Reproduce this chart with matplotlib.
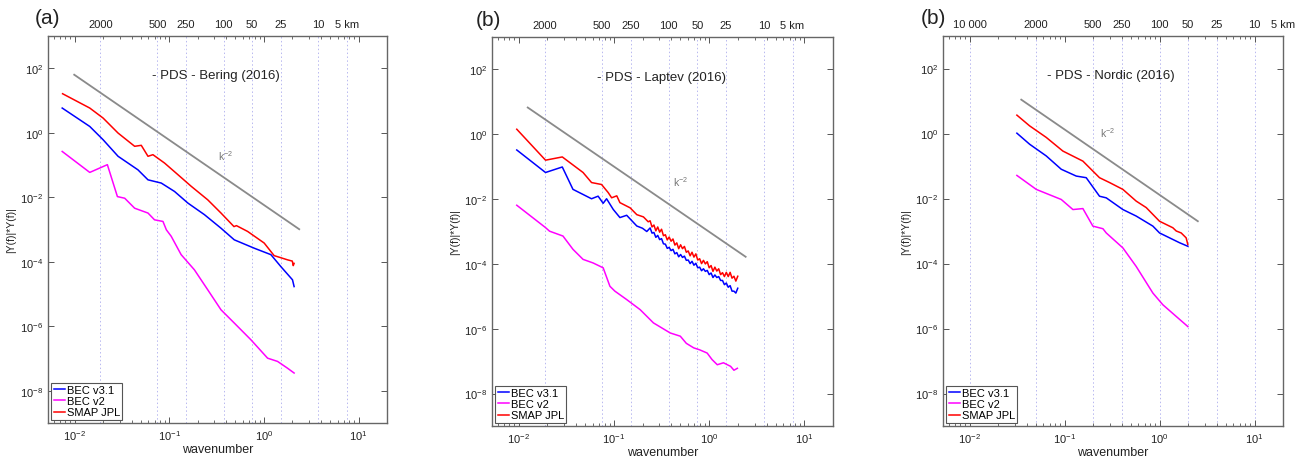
import numpy as np
import matplotlib
matplotlib.use("Agg")
import matplotlib.pyplot as plt
from matplotlib.ticker import NullLocator, LogLocator

plt.rcParams['font.family'] = ['Liberation Sans', 'DejaVu Sans']
plt.rcParams['mathtext.fontset'] = 'custom'
plt.rcParams['mathtext.rm'] = 'Liberation Sans'
plt.rcParams['mathtext.it'] = 'Liberation Sans'

# ---------------- data (log10 of wavenumber, log10 of PDS) ----------------
# Panel (a) Bering
bering_blue_lk = [-2.13, -1.839, -1.698, -1.54, -1.33, -1.224, -1.084, -0.944, -0.803, -0.628,
                  -0.453, -0.313, -0.102, 0.074, 0.179, 0.302, 0.319]
bering_blue_lv = [0.766, 0.195, -0.217, -0.73, -1.15, -1.46, -1.56, -1.82, -2.18, -2.54,
                  -2.96, -3.32, -3.58, -3.78, -4.15, -4.56, -4.77]
bering_mag_lk = [-2.13, -1.839, -1.653, -1.547, -1.47, -1.365, -1.224, -1.155, -1.066, -1.03,
                 -0.979, -0.874, -0.734, -0.593, -0.453, -0.313, -0.137, 0.039, 0.144, 0.249, 0.319]
bering_mag_lv = [-0.58, -1.23, -0.99, -1.98, -2.03, -2.34, -2.49, -2.70, -2.75, -3.01,
                 -3.21, -3.78, -4.25, -4.87, -5.49, -5.90, -6.42, -6.99, -7.09, -7.30, -7.45]
bering_red_lk = [-2.126, -1.839, -1.698, -1.540, -1.365, -1.295, -1.224, -1.172, -1.049, -0.908,
                 -0.768, -0.593, -0.453, -0.316, -0.29, -0.172, 0.003, 0.108, 0.249, 0.30, 0.31, 0.319]
bering_red_lv = [1.21, 0.766, 0.455, -0.01, -0.42, -0.39, -0.73, -0.68, -0.94, -1.30,
                 -1.66, -2.08, -2.49, -2.91, -2.88, -3.06, -3.42, -3.81, -3.94, -3.98, -4.12, -4.05]
bering_ref_k = [0.00993, 2.36]
bering_ref_v = [63.0, 1.02e-3]

# Panel (b) Laptev
laptev_tail_lk = [-0.62, -0.60, -0.58, -0.56, -0.54, -0.52, -0.50, -0.48, -0.46, -0.44, -0.42,
                  -0.40, -0.38, -0.36, -0.34, -0.32, -0.30, -0.28, -0.26, -0.24, -0.22, -0.20,
                  -0.18, -0.16, -0.14, -0.12, -0.10, -0.08, -0.06, -0.04, -0.02, 0.00, 0.02,
                  0.04, 0.06, 0.08, 0.10, 0.12, 0.14, 0.16, 0.18, 0.20, 0.22, 0.24, 0.26, 0.28, 0.30]
laptev_blue_lk = [-2.02, -1.718, -1.542, -1.43, -1.235, -1.166, -1.113, -1.077, -1.007, -0.937,
                  -0.866, -0.76, -0.70, -0.655] + laptev_tail_lk
laptev_blue_lv = [-0.485, -1.18, -1.01, -1.70, -1.99, -1.91, -2.13, -1.99, -2.32, -2.57,
                  -2.50, -2.83, -2.90, -3.0,
                  -2.89, -3.05, -3.03, -3.18, -3.12, -3.25, -3.22, -3.38, -3.39, -3.52, -3.49,
                  -3.59, -3.55, -3.69, -3.65, -3.78, -3.71, -3.80, -3.76, -3.89, -3.88, -3.99,
                  -3.92, -4.04, -3.98, -4.12, -4.10, -4.21, -4.15, -4.23, -4.20, -4.33, -4.28,
                  -4.42, -4.34, -4.42, -4.39, -4.51, -4.51, -4.64, -4.59, -4.72, -4.67, -4.84,
                  -4.84, -4.90, -4.75]
laptev_mag_lk = [-2.02, -1.718, -1.676, -1.535, -1.43, -1.324, -1.219, -1.113, -1.042, -0.99,
                 -0.866, -0.725, -0.585, -0.409, -0.303, -0.24, -0.162, -0.10, -0.021, 0.03,
                 0.085, 0.15, 0.225, 0.26, 0.296]
laptev_mag_lv = [-2.19, -2.88, -2.99, -3.14, -3.55, -3.86, -3.97, -4.12, -4.69, -4.84,
                 -5.10, -5.41, -5.82, -6.13, -6.23, -6.45, -6.59, -6.65, -6.75, -6.95,
                 -7.11, -7.05, -7.16, -7.28, -7.22]
laptev_red_lk = [-2.02, -1.718, -1.542, -1.324, -1.235, -1.13, -1.06, -1.024, -0.97, -0.937,
                 -0.83, -0.76, -0.69, -0.64] + laptev_tail_lk
laptev_red_lv = [0.155, -0.80, -0.70, -1.18, -1.49, -1.55, -1.80, -1.96, -1.90, -2.11,
                 -2.27, -2.48, -2.55, -2.70,
                 -2.67, -2.86, -2.80, -2.98, -2.86, -3.02, -2.93, -3.13, -3.10, -3.26, -3.17,
                 -3.30, -3.23, -3.42, -3.35, -3.53, -3.41, -3.53, -3.46, -3.64, -3.60, -3.75,
                 -3.64, -3.79, -3.69, -3.88, -3.84, -3.99, -3.89, -4.00, -3.93, -4.12, -4.05,
                 -4.23, -4.10, -4.22, -4.15, -4.33, -4.27, -4.39, -4.26, -4.39, -4.26, -4.44,
                 -4.38, -4.53, -4.38]
laptev_ref_k = [0.01245, 2.415]
laptev_ref_v = [6.68, 1.66e-4]

# Panel (c) Nordic
nordic_blue_lk = [-1.502, -1.368, -1.193, -1.035, -0.877, -0.772, -0.632, -0.561, -0.386, -0.246,
                  -0.07, 0.0, 0.105, 0.21, 0.298]
nordic_blue_lv = [0.01, -0.33, -0.69, -1.10, -1.31, -1.36, -1.93, -1.98, -2.34, -2.54,
                  -2.85, -3.06, -3.21, -3.36, -3.47]
nordic_mag_lk = [-1.502, -1.298, -1.035, -0.912, -0.807, -0.702, -0.596, -0.561, -0.386, -0.246,
                 -0.07, 0.035, 0.176, 0.298]
nordic_mag_lv = [-1.29, -1.72, -2.03, -2.34, -2.31, -2.85, -2.93, -3.06, -3.52, -4.09,
                 -4.91, -5.27, -5.63, -5.94]
nordic_red_lk = [-1.502, -1.368, -1.193, -1.018, -0.807, -0.632, -0.526, -0.386, -0.246, -0.14,
                 0.0, 0.14, 0.176, 0.228, 0.28, 0.298]
nordic_red_lv = [0.565, 0.235, -0.12, -0.54, -0.85, -1.36, -1.51, -1.72, -2.08, -2.28,
                 -2.70, -2.90, -3.0, -3.06, -3.21, -3.42]
nordic_ref_k = [0.035, 2.53]
nordic_ref_v = [11.0, 2.0e-3]

series_labels = ["BEC v3.1", "BEC v2", "SMAP JPL"]
titles = ["- PDS - Bering (2016)", "- PDS - Laptev (2016)", "- PDS - Nordic (2016)"]
panel_tags = ["(a)", "(b)", "(b)"]

km_ab = [2000, 500, 250, 100, 50, 25, 10, 5]
km_ab_labels = ["2000", "500", "250", "100", "50", "25", "10", "5 km"]
km_c = [10000, 2000, 500, 250, 100, 50, 25, 10, 5]
km_c_labels = ["10 000", "2000", "500", "250", "100", "50", "25", "10", "5 km"]
km_const_ab = 37.5
km_const_c = 100.0

# ---------------- figure ----------------
W, H = 1303, 460
fig = plt.figure(figsize=(W / 100, H / 100), dpi=100)

boxes = [(48, 37, 387, 424), (492, 38, 833, 427), (943, 37, 1283, 427)]
tag_pos = [(47, 18), (488, 20), (933, 18)]
title_pos = [(10 ** -0.505, 10 ** 1.8), (10 ** -0.496, 10 ** 1.78), (10 ** -0.51, 10 ** 1.8)]
kl_pos = [(10 ** -0.4, 10 ** -0.68), (10 ** -0.30, 10 ** -1.44), (10 ** -0.544, 10 ** 0.03)]

panels = [
    (bering_blue_lk, bering_blue_lv, bering_mag_lk, bering_mag_lv, bering_red_lk, bering_red_lv,
     bering_ref_k, bering_ref_v, km_ab, km_ab_labels, km_const_ab),
    (laptev_blue_lk, laptev_blue_lv, laptev_mag_lk, laptev_mag_lv, laptev_red_lk, laptev_red_lv,
     laptev_ref_k, laptev_ref_v, km_ab, km_ab_labels, km_const_ab),
    (nordic_blue_lk, nordic_blue_lv, nordic_mag_lk, nordic_mag_lv, nordic_red_lk, nordic_red_lv,
     nordic_ref_k, nordic_ref_v, km_c, km_c_labels, km_const_c),
]

txtc = '#222222'
for i, p in enumerate(panels):
    bk, bv, mk, mv, rk, rv, refk, refv, kms, kml, kc = p
    x0, y0, x1, y1 = boxes[i]
    ax = fig.add_axes([x0 / W, 1 - y1 / H, (x1 - x0) / W, (y1 - y0) / H])
    ax.set_xscale('log')
    ax.set_yscale('log')
    ax.set_xlim(10 ** -2.28, 10 ** 1.3)
    ax.set_ylim(1e-9, 1e3)

    # dotted km lines
    for L in kms:
        kk = kc / L
        if kk < 19.5:
            ax.axvline(kk, color='#b8b8f0', lw=0.7, ls=(0, (1.5, 2.5)), zorder=1)
    for L, lab in zip(kms, kml):
        ax.annotate(lab, xy=(kc / L, 1.0), xycoords=('data', 'axes fraction'),
                    xytext=(0, 5), textcoords='offset points', ha='center', va='bottom',
                    fontsize=8, color=txtc, annotation_clip=False)

    ax.plot(refk, refv, color='#8a8a8a', lw=1.3, zorder=2)
    ax.plot(10 ** np.array(bk), 10 ** np.array(bv), color='#0000ff', lw=1.1, label=series_labels[0], zorder=4)
    ax.plot(10 ** np.array(mk), 10 ** np.array(mv), color='#ff00ff', lw=1.1, label=series_labels[1], zorder=3)
    ax.plot(10 ** np.array(rk), 10 ** np.array(rv), color='#ff0000', lw=1.1, label=series_labels[2], zorder=3)

    ax.text(title_pos[i][0], title_pos[i][1], titles[i], ha='center', va='center', fontsize=9.5, color=txtc)
    ax.text(kl_pos[i][0], kl_pos[i][1], r'k$^{-2}$', ha='center', va='center', fontsize=7.5, color='#777777')

    ax.set_yticks([1e-8, 1e-6, 1e-4, 1e-2, 1e0, 1e2])
    ax.yaxis.set_minor_locator(NullLocator())
    ax.xaxis.set_major_locator(LogLocator(base=10, numticks=10))
    ax.xaxis.set_minor_locator(LogLocator(base=10, subs=np.arange(2, 10), numticks=10))
    ax.tick_params(which='both', direction='in', top=True, right=True, colors='#555555',
                   labelcolor=txtc, labelsize=8)
    ax.tick_params(which='major', length=4, width=0.7)
    ax.tick_params(which='minor', length=2, width=0.6)
    for s in ax.spines.values():
        s.set_color('#666666')
        s.set_linewidth(1.0)

    ax.set_xlabel('wavenumber', fontsize=9, color=txtc, labelpad=1)
    ax.set_ylabel('|Y(f)|*Y(f)|', fontsize=7.5, color=txtc, labelpad=3)

    leg = ax.legend(loc='lower left', fontsize=8, handlelength=1.0, handletextpad=0.2,
                    borderpad=0.2, labelspacing=0.12, borderaxespad=0.3, fancybox=False,
                    framealpha=1.0)
    leg.get_frame().set_edgecolor('#555555')
    leg.get_frame().set_linewidth(0.8)

    fig.text(tag_pos[i][0] / W, 1 - tag_pos[i][1] / H, panel_tags[i], ha='center', va='center',
             fontsize=15, color=txtc)

fig.savefig('out.png', dpi=100)
